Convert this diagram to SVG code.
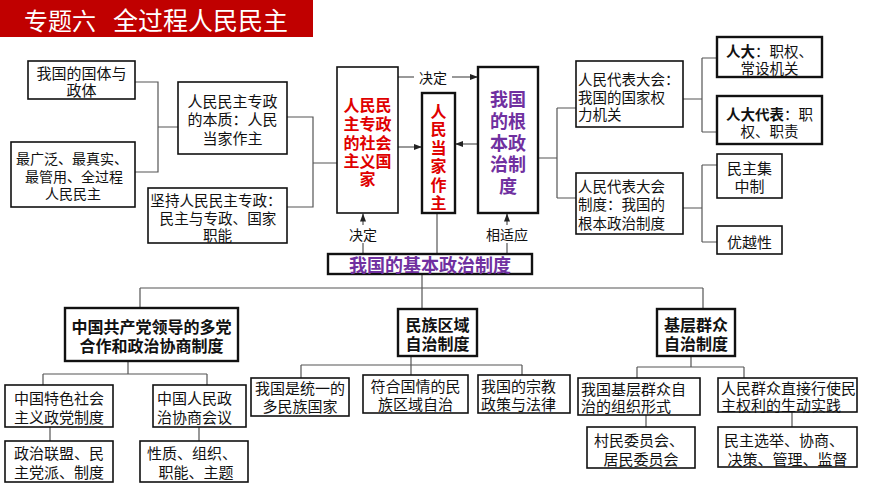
<svg xmlns="http://www.w3.org/2000/svg" width="870" height="489" viewBox="0 0 870 489">
<defs>
<marker id="arr" markerWidth="8" markerHeight="6" refX="8" refY="3" orient="auto" markerUnits="userSpaceOnUse">
<path d="M0,0 L8,3 L0,6 z" fill="#222"/>
</marker>
<style>
text{font-family:"Noto Sans CJK SC","Noto Sans",sans-serif;fill:#111;dominant-baseline:central}
.t{font-size:15px;text-anchor:middle}
.tl{font-size:15px;text-anchor:start}
.s14{font-size:14px}
.s145{font-size:14.5px}
.h{font-size:16px;font-weight:bold;text-anchor:middle}
.red{font-size:16px;font-weight:bold;fill:#e00000;text-anchor:middle}
.pur{font-size:18px;font-weight:bold;fill:#7030a0;text-anchor:middle}
.lab{font-size:14px;text-anchor:middle}
.b{fill:#fff;stroke:#111;stroke-width:1.6}
.bt{fill:#fff;stroke:#111;stroke-width:2.4}
.c{fill:none;stroke:#555;stroke-width:1.2}
.g{fill:none;stroke:#999;stroke-width:2}
.bold{font-weight:bold}
</style>
</defs>
<rect width="870" height="489" fill="#fff"/>
<g id="title">
<rect x="0" y="0" width="313" height="37" fill="#c00000"/>
<text x="24" y="19" style="font-size:24px;fill:#fff">专题六</text>
<text x="113" y="19" style="font-size:25px;fill:#fff">全过程人民民主</text>
</g>
<g id="connectors">
<path class="c" d="M135,82 H158 V172 H135 M158,127 H178"/>
<path class="c" d="M287,117 H313 V207 H287 M313,163 H337"/>
<path class="c" d="M452,77 H478" marker-end="url(#arr)"/>
<path class="c" d="M398,77 H414"/>
<path class="c" d="M398,147 H422" marker-end="url(#arr)"/>
<path class="c" d="M478,144 H455" marker-end="url(#arr)"/>
<path class="g" d="M363,254 V243"/>
<path class="g" d="M363,225 V213.5" marker-end="url(#arr)"/>
<path class="g" d="M437,254 V213"/>
<path class="g" d="M507,254 V243"/>
<path class="g" d="M507,225 V213.5" marker-end="url(#arr)"/>
<path class="c" d="M538,158 H557 M557,108 V198 M557,108 H576 M557,198 H576"/>
<path class="c" d="M683,99 H702 M702,58 V132 M702,58 H717 M702,132 H717"/>
<path class="c" d="M683,208 H702 M702,165 V242 M702,165 H717 M702,242 H717"/>
<path class="g" d="M422,274 V309"/>
<path class="c" d="M140,288 H703 M140,288 V308 M703,288 V309"/>
<path class="c" d="M128,361 V374 M43,374 H207 M43,374 V385 M207,374 V385"/>
<path class="c" d="M50,427 V441 M199,427 V441"/>
<path class="c" d="M411,356 V365 M301,365 H522 M301,365 V378 M411,365 V375 M522,365 V375"/>
<path class="c" d="M691,356 V367 M637,367 H744 M637,367 V378 M744,367 V378"/>
<path class="c" d="M646,415 V427 M792,412 V427"/>
<text class="lab" x="433" y="77">决定</text>
<text class="lab" x="363" y="234">决定</text>
<text class="lab" x="507" y="234">相适应</text>
</g>
<g id="n1"><rect class="b" x="28" y="61" width="107" height="38"/>
<text class="t" x="81.5" y="72">我国的国体与<tspan x="81.5" dy="17">政体</tspan></text></g>
<g id="n2"><rect class="b" x="11" y="142" width="124" height="65"/>
<text class="t s14" x="72" y="158">最广泛、最真实、<tspan x="74" dy="17.5">最管用、全过程</tspan><tspan x="73" dy="17.5">人民民主</tspan></text></g>
<g id="n3"><rect class="b" x="178" y="82" width="109" height="72"/>
<text class="t" x="232.5" y="100">人民民主专政<tspan x="232.5" dy="18">的本质：人民</tspan><tspan x="232.5" dy="19">当家作主</tspan></text></g>
<g id="n4"><rect class="b" x="148" y="188" width="139" height="55"/>
<text class="t" x="216" y="199" style="font-size:14.6px">坚持人民民主专政：<tspan x="218" dy="18">民主与专政、国家</tspan><tspan x="217.5" dy="17">职能</tspan></text></g>
<g id="n5"><rect class="b" x="337" y="67" width="61" height="146"/>
<text class="red" x="367.5" y="104">人民民<tspan x="367.5" dy="19">主专政</tspan><tspan x="367.5" dy="19">的社会</tspan><tspan x="367.5" dy="18">主义国</tspan><tspan x="367.5" dy="18">家</tspan></text></g>
<g id="n6"><rect class="bt" x="422" y="93" width="33" height="120"/>
<text class="red" x="438.5" y="110">人<tspan x="438.5" dy="18.4">民</tspan><tspan x="438.5" dy="18.4">当</tspan><tspan x="438.5" dy="18.4">家</tspan><tspan x="438.5" dy="18.4">作</tspan><tspan x="438.5" dy="18.4">主</tspan></text></g>
<g id="n7"><rect class="bt" x="478" y="67" width="60" height="146"/>
<text class="pur" x="508" y="98">我国<tspan x="508" dy="22">的根</tspan><tspan x="508" dy="22">本政</tspan><tspan x="508" dy="21">治制</tspan><tspan x="508" dy="22">度</tspan></text></g>
<g id="n8"><rect class="bt" x="328" y="254" width="204" height="20"/>
<text class="pur" x="430" y="264">我国的基本政治制度</text></g>
<g id="n9"><rect class="b" x="576" y="61" width="107" height="66"/>
<text class="tl s145" x="578" y="78">人民代表大会：<tspan x="578" dy="18">我国的国家权</tspan><tspan x="578" dy="17">力机关</tspan></text></g>
<g id="n10"><rect class="b" x="576" y="173" width="107" height="61"/>
<text class="tl s145" x="578" y="185">人民代表大会<tspan x="578" dy="18">制度：我国的</tspan><tspan x="578" dy="19">根本政治制度</tspan></text></g>
<g id="n11"><rect class="bt" x="717" y="37" width="105" height="40"/>
<text class="t s145" x="769.5" y="50"><tspan class="bold">人大</tspan>：职权、<tspan x="769.5" dy="17">常设机关</tspan></text></g>
<g id="n12"><rect class="bt" x="717" y="96" width="105" height="48"/>
<text class="t s145" x="769.5" y="113"><tspan class="bold">人大代表</tspan>：职<tspan x="769.5" dy="17">权、职责</tspan></text></g>
<g id="n13"><rect class="b" x="717" y="154" width="65" height="44"/>
<text class="t" x="749.5" y="167">民主集<tspan x="749.5" dy="18">中制</tspan></text></g>
<g id="n14"><rect class="b" x="717" y="226" width="65" height="28"/>
<text class="t" x="749.5" y="241">优越性</text></g>
<g id="n15"><rect class="bt" x="65" y="308" width="173" height="53"/>
<text class="h" x="151.5" y="326">中国共产党领导的多党<tspan x="151.5" dy="19">合作和政治协商制度</tspan></text></g>
<g id="n16"><rect class="b" x="5" y="385" width="108" height="42"/>
<text class="t" x="59" y="397">中国特色社会<tspan x="59" dy="19">主义政党制度</tspan></text></g>
<g id="n17"><rect class="b" x="153" y="385" width="93" height="42"/>
<text class="tl" x="157" y="397">中国人民政<tspan x="157" dy="19">治协商会议</tspan></text></g>
<g id="n18"><rect class="b" x="5" y="441" width="108" height="41"/>
<text class="t" x="59" y="452">政治联盟、民<tspan x="59" dy="19">主党派、制度</tspan></text></g>
<g id="n19"><rect class="b" x="140" y="441" width="108" height="41"/>
<text class="t" x="192" y="452">性质、组织、<tspan x="196" dy="19">职能、主题</tspan></text></g>
<g id="n20"><rect class="bt" x="398" y="309" width="79" height="47"/>
<text class="h" x="437.5" y="324">民族区域<tspan x="437.5" dy="19">自治制度</tspan></text></g>
<g id="n21"><rect class="b" x="251" y="378" width="98" height="38"/>
<text class="t" x="300" y="387">我国是统一的<tspan x="300" dy="18">多民族国家</tspan></text></g>
<g id="n22"><rect class="b" x="363" y="375" width="105" height="38"/>
<text class="t" x="415.5" y="385">符合国情的民<tspan x="415.5" dy="18">族区域自治</tspan></text></g>
<g id="n23"><rect class="b" x="478" y="375" width="92" height="38"/>
<text class="tl" x="481" y="385">我国的宗教<tspan x="481" dy="18">政策与法律</tspan></text></g>
<g id="n24"><rect class="bt" x="657" y="309" width="78" height="47"/>
<text class="h" x="696" y="324">基层群众<tspan x="696" dy="19">自治制度</tspan></text></g>
<g id="n25"><rect class="b" x="578" y="378" width="122" height="37"/>
<text class="tl" x="581" y="388">我国基层群众自<tspan x="581" dy="17">治的组织形式</tspan></text></g>
<g id="n26"><rect class="b" x="718" y="378" width="139" height="34"/>
<text class="tl" x="721" y="387">人民群众直接行使民<tspan x="721" dy="17">主权利的生动实践</tspan></text></g>
<g id="n27"><rect class="b" x="587" y="427" width="108" height="41"/>
<text class="t" x="639" y="439">村民委员会、<tspan x="641" dy="19">居民委员会</tspan></text></g>
<g id="n28"><rect class="b" x="718" y="427" width="139" height="40"/>
<text class="t" x="784" y="439">民主选举、协商、<tspan x="787.5" dy="19">决策、管理、监督</tspan></text></g>
</svg>
